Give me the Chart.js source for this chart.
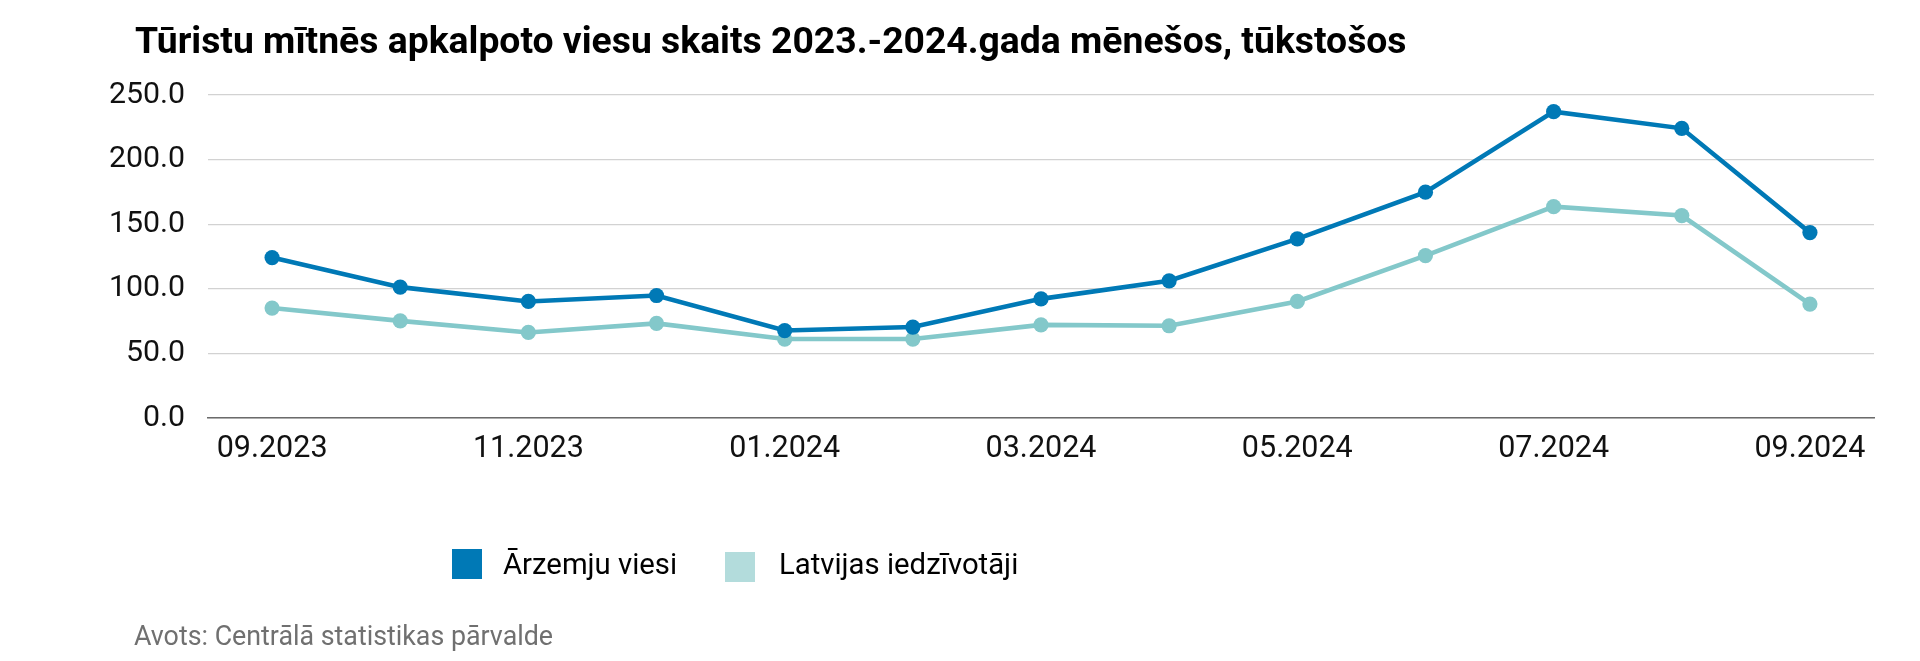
<!DOCTYPE html>
<html>
<head>
<meta charset="utf-8">
<script src="https://cdn.jsdelivr.net/npm/chart.js@4/dist/chart.umd.min.js"></script>
<style>
  html, body { margin: 0; padding: 0; background: #fff; }
  body { width: 1920px; height: 661px; position: relative; overflow: hidden; font-family: Roboto, sans-serif; }
  #wrap { position: absolute; left: 0; top: 0; width: 1920px; height: 661px; }
  #title { position: absolute; left: 135px; top: 22px; font: bold 37.3px/37px Roboto, sans-serif; color: #000; white-space: nowrap; }
  #source { position: absolute; left: 134px; top: 623px; font: 26.8px/27px Roboto, sans-serif; color: #707070; white-space: nowrap; }
  #legend { position: absolute; left: 452px; top: 549px; height: 34px; font: 29.3px/30px Roboto, sans-serif; color: #000; }
  .box { position: absolute; width: 30px; height: 30px; }
  .lt { position: absolute; top: 0; white-space: nowrap; }
</style>
</head>
<body>
<div id="wrap"><canvas id="c" width="1920" height="661"></canvas></div>
<div id="title">Tūristu mītnēs apkalpoto viesu skaits 2023.-2024.gada mēnešos, tūkstošos</div>
<div id="legend"></div>
<div id="source">Avots: Centrālā statistikas pārvalde</div>
<script>
const months = ['09.2023','10.2023','11.2023','12.2023','01.2024','02.2024','03.2024','04.2024','05.2024','06.2024','07.2024','08.2024','09.2024'];
const foreignGuests = [124.2, 101.3, 90.2, 94.8, 67.7, 70.4, 92.2, 106.2, 138.6, 174.8, 237.1, 224.2, 143.5];
const residents = [85.1, 75.2, 66.2, 73.2, 61.1, 61.1, 72.1, 71.4, 90.2, 125.7, 163.6, 156.7, 88.2];
const seriesNames = ['Ārzemju viesi', 'Latvijas iedzīvotāji'];
const yTicks = [0, 50, 100, 150, 200, 250];

const darkColor = '#0079b6';
const lightColor = '#83c8ca';
const legendColors = ['#0079b6', '#b3dcdc'];

const legend = document.getElementById('legend');
const legendLayout = [{box: 0, boxTop: 0, text: 51}, {box: 273, boxTop: 3, text: 327}];
seriesNames.forEach((n, i) => {
  const b = document.createElement('div');
  b.className = 'box';
  b.style.left = legendLayout[i].box + 'px';
  b.style.top = legendLayout[i].boxTop + 'px';
  b.style.background = legendColors[i];
  legend.appendChild(b);
  const t = document.createElement('div');
  t.className = 'lt';
  t.style.left = legendLayout[i].text + 'px';
  t.textContent = n;
  legend.appendChild(t);
});

Chart.defaults.font.family = 'Roboto, sans-serif';
new Chart(document.getElementById('c'), {
  type: 'line',
  data: {
    labels: months,
    datasets: [
      { label: seriesNames[0], data: foreignGuests, borderColor: darkColor, backgroundColor: darkColor,
        borderWidth: 4.6, pointRadius: 7.6, pointBorderWidth: 0, pointBackgroundColor: darkColor, tension: 0 },
      { label: seriesNames[1], data: residents, borderColor: lightColor, backgroundColor: lightColor,
        borderWidth: 4.6, pointRadius: 7.6, pointBorderWidth: 0, pointBackgroundColor: lightColor, tension: 0 }
    ]
  },
  options: {
    responsive: false,
    animation: false,
    devicePixelRatio: 1,
    layout: { padding: { top: 95, right: 46, bottom: 0, left: 0 } },
    plugins: { legend: { display: false }, tooltip: { enabled: false }, title: { display: false } },
    scales: {
      x: {
        offset: true,
        grid: { display: false, drawTicks: false },
        border: { display: true, color: '#6b6b6b', width: 1.5 },
        ticks: {
          autoSkip: false, maxRotation: 0, minRotation: 0, padding: 13,
          color: '#111', font: { size: 30.5 },
          callback: function(v, i) { return i % 2 === 0 ? months[i] : ''; }
        },
        afterFit: s => { s.height = 243; }
      },
      y: {
        min: 0, max: 250,
        afterBuildTicks: s => { s.ticks = yTicks.map(v => ({ value: v })); },
        grid: { color: '#d2d2d2', lineWidth: 1.2, drawTicks: false },
        border: { display: false },
        ticks: { padding: 23, color: '#111', font: { size: 30.3 }, callback: v => Number(v).toFixed(1) },
        afterFit: s => { s.width = 208; }
      }
    }
  }
});
</script>
</body>
</html>
